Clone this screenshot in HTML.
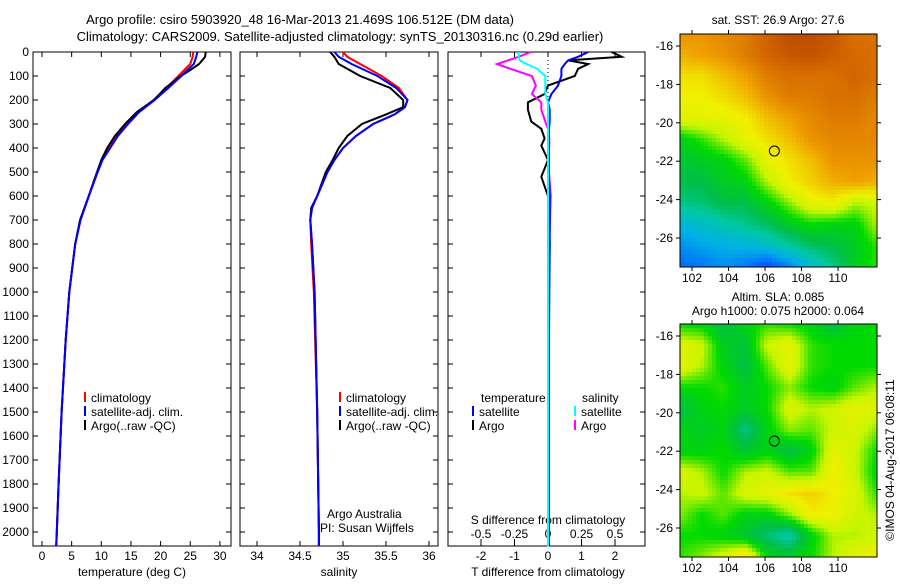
<!DOCTYPE html>
<html><head><meta charset="utf-8"><style>
body{margin:0;background:#fff;width:900px;height:580px;overflow:hidden}
svg{font-family:"Liberation Sans",sans-serif;font-size:12px}
</style></head><body>
<svg id="s" width="900" height="580" xmlns="http://www.w3.org/2000/svg">
<text x="300" y="24" text-anchor="middle" font-size="13">Argo profile: csiro 5903920_48 16-Mar-2013 21.469S 106.512E (DM data)</text>
<text x="340" y="41" text-anchor="middle" font-size="13">Climatology: CARS2009. Satellite-adjusted climatology: synTS_20130316.nc (0.29d earlier)</text>
<text x="778" y="24" text-anchor="middle">sat. SST: 26.9 Argo: 27.6</text>
<text x="778" y="301" text-anchor="middle">Altim. SLA: 0.085</text>
<text x="778" y="315" text-anchor="middle">Argo h1000: 0.075 h2000: 0.064</text>
<text transform="translate(894,460) rotate(-90)" text-anchor="middle">©IMOS 04-Aug-2017 06:08:11</text>
</svg>
<script>
// ---- data ----
const tDepth=[0,20,50,75,100,150,200,250,300,350,400,450,500,600,700,800,1000,1200,1500,1800,2000,2060];
const tClim=[25.5,25.4,25.0,24.0,23.0,21.0,18.8,16.2,14.3,12.6,11.3,10.1,9.3,7.9,6.5,5.6,4.6,4.0,3.3,2.8,2.5,2.4];
const tSat=[26.2,26.0,25.6,24.5,23.5,21.3,19.0,16.4,14.5,12.8,11.5,10.2,9.4,7.9,6.5,5.6,4.6,4.0,3.3,2.8,2.5,2.4];
const tArgo=[27.6,27.5,26.5,25.0,23.4,20.8,18.9,16.0,14.0,12.3,11.0,10.0,9.3,7.9,6.4,5.6,4.6,4.0,3.3,2.8,2.5,2.4];
const sDepth=[0,20,50,100,150,200,230,260,300,350,400,450,500,600,650,700,800,1000,1500,2000,2060];
const sClim=[35.0,35.05,35.2,35.45,35.65,35.75,35.72,35.6,35.35,35.15,35.0,34.9,34.82,34.7,34.64,34.62,34.63,34.66,34.7,34.72,34.72];
const sSat=[34.9,34.95,35.1,35.4,35.62,35.75,35.72,35.6,35.35,35.15,35.0,34.9,34.82,34.7,34.64,34.62,34.64,34.67,34.7,34.72,34.72];
const sArgo=[34.85,34.9,34.95,35.2,35.55,35.7,35.7,35.5,35.22,35.05,34.95,34.88,34.8,34.7,34.63,34.62,34.64,34.67,34.7,34.72,34.72];
const dDepth=[0,20,35,50,70,100,140,175,210,240,290,320,360,390,450,520,600,800,1200,1600,2060];
const dTArgo=[1.9,2.2,0.6,1.2,0.9,0.8,0.0,-0.1,-0.6,-0.6,-0.5,-0.2,-0.1,-0.2,0.0,-0.2,0.0,0.05,0.0,0.0,0.0];
const dTSat=[1.2,0.9,0.6,0.5,0.4,0.4,0.3,0.1,0.0,0.05,0.05,0.03,0.03,0.03,0.03,0.03,0.05,0.05,0.03,0.03,0.03];
const dSArgo=[-0.13,-0.22,-0.3,-0.38,-0.28,-0.12,-0.09,-0.12,-0.05,-0.05,-0.02,0.0,0.01,0.01,0.0,0.01,0.02,0.01,0.0,0.0,0.0];
const dSSat=[-0.22,-0.22,-0.21,-0.16,-0.08,-0.02,-0.02,-0.02,0.0,0.0,0.0,0.0,0.0,0.0,0.0,0.0,0.0,0.0,0.0,0.0,0.0];
const depthTicks=[0,100,200,300,400,500,600,700,800,900,1000,1100,1200,1300,1400,1500,1600,1700,1800,1900,2000];
const tTicks=[0,5,10,15,20,25,30];
const sTicks=[34,34.5,35,35.5,36];
const dTTicks=[-2,-1,0,1,2];
const dSTicks=[-0.5,-0.25,0,0.25,0.5];
const latTicks=[-16,-18,-20,-22,-24,-26];
const lonTicks=[102,104,106,108,110];
const argoLon=106.512, argoLat=-21.469;
const sstGrid=[
[.86,.86,.88,.9,.95,.98,.98,.96,.92,.92],
[.82,.84,.86,.9,.94,.96,.97,.95,.93,.92],
[.76,.76,.8,.84,.9,.92,.92,.92,.94,.92],
[.74,.74,.76,.8,.86,.9,.9,.92,.92,.9],
[.72,.72,.72,.74,.8,.84,.88,.9,.9,.88],
[.55,.6,.66,.72,.76,.8,.86,.88,.88,.88],
[.52,.54,.56,.62,.72,.76,.8,.86,.86,.86],
[.5,.5,.54,.56,.66,.74,.78,.82,.84,.82],
[.44,.46,.5,.5,.56,.64,.72,.74,.66,.68],
[.32,.36,.4,.44,.48,.54,.58,.56,.56,.66],
[.24,.28,.3,.32,.36,.42,.48,.5,.54,.6],
[.18,.2,.24,.2,.12,.22,.34,.44,.54,.6]];
const slaGrid=[
[.58,.56,.5,.56,.6,.58,.56,.5,.56,.58],
[.7,.68,.54,.52,.68,.72,.6,.58,.58,.58],
[.72,.66,.56,.5,.62,.72,.6,.58,.58,.58],
[.58,.58,.6,.54,.58,.64,.58,.56,.62,.66],
[.5,.56,.58,.54,.58,.7,.66,.68,.72,.7],
[.56,.54,.56,.45,.56,.64,.62,.68,.7,.64],
[.56,.56,.58,.52,.56,.5,.56,.72,.68,.58],
[.7,.66,.58,.66,.68,.62,.62,.74,.68,.56],
[.66,.68,.62,.7,.72,.76,.78,.74,.7,.6],
[.64,.58,.62,.56,.56,.64,.74,.74,.68,.66],
[.58,.58,.56,.52,.46,.4,.56,.66,.66,.68],
[.6,.64,.7,.78,.56,.54,.58,.66,.72,.74]];
// ---- helpers ----
const S=document.getElementById('s'),NS='http://www.w3.org/2000/svg';
function mk(t,a,p){const e=document.createElementNS(NS,t);for(const k in a)e.setAttribute(k,a[k]);(p||S).appendChild(e);return e;}
const Y0=52,YS=0.24;
const yD=d=>Y0+d*YS;
const panels=[{x0:33,x1:231},{x0:240,x1:438},{x0:448,x1:645}];
const PB=546;
const xT=v=>42+v*5.93, xS=v=>257+(v-34)*86, xDT=v=>548+v*33.5, xDS=v=>548+v*134;
panels.forEach((p,i)=>{
 const r=mk('rect',{x:p.x0,y:Y0,width:p.x1-p.x0,height:PB-Y0,fill:'none',stroke:'#000'});
 
 
 depthTicks.forEach(d=>{mk('line',{x1:p.x0,x2:p.x0+5,y1:yD(d),y2:yD(d),stroke:'#000'});mk('line',{x1:p.x1,x2:p.x1-5,y1:yD(d),y2:yD(d),stroke:'#000'});});
});
depthTicks.forEach(d=>{const t=mk('text',{x:29,y:yD(d)+4,'text-anchor':'end'});t.textContent=d;
 
 });
function xticks(ticks,f,ly,fmt,top){ticks.forEach(v=>{const x=f(v);mk('line',{x1:x,x2:x,y1:PB,y2:PB-5,stroke:'#000'});if(top)mk('line',{x1:x,x2:x,y1:Y0,y2:Y0+5,stroke:'#000'});const t=mk('text',{x:x,y:ly,'text-anchor':'middle'});t.textContent=fmt?fmt(v):v;
 
 });}
xticks(tTicks,xT,560,null,true);
xticks(sTicks,xS,560,null,true);
xticks(dTTicks,xDT,560,null,true);
dSTicks.forEach(v=>{const x=xDS(v);mk('line',{x1:x,x2:x,y1:PB,y2:PB-7,stroke:'#000'});const t=mk('text',{x:x,y:538,'text-anchor':'middle'});t.textContent=v;
 
 });
function lab(x,y,s,n,anc){const t=mk('text',{x:x,y:y,'text-anchor':anc||'middle'});t.textContent=s;
 
 return t;}
lab(132,576,'temperature (deg C)','x-axis-title-temperature');
lab(339,576,'salinity','x-axis-title-salinity');
lab(548,576,'T difference from climatology','x-axis-title-t-diff');
lab(548,524,'S difference from climatology','s-diff-axis-title');
mk('line',{x1:548,x2:548,y1:Y0,y2:250,stroke:'#000','stroke-dasharray':'1,3'});
function line(xs,ds,fx,col,name,w){const pts=xs.map((v,i)=>fx(v).toFixed(1)+','+yD(ds[i]).toFixed(1)).join(' ');const e=mk('polyline',{points:pts,fill:'none',stroke:col,'stroke-width':w||2});
 
 }
line(tClim,tDepth,xT,'#f00','temp-climatology-line');
line(tArgo,tDepth,xT,'#000','temp-argo-line');
line(tSat,tDepth,xT,'#00f','temp-satellite-line');
line(sClim,sDepth,xS,'#f00','sal-climatology-line');
line(sArgo,sDepth,xS,'#000','sal-argo-line');
line(sSat,sDepth,xS,'#00f','sal-satellite-line');
line(dTArgo,dDepth,xDT,'#000','tdiff-argo-line');
line(dSArgo,dDepth,xDS,'#f0f','sdiff-argo-line');
line(dTSat,dDepth,xDT,'#00f','tdiff-satellite-line');
line(dSSat,dDepth,xDS,'#0ff','sdiff-satellite-line');
function leg(x,y,col,txt,name){mk('line',{x1:x,x2:x,y1:y-10,y2:y,stroke:col,'stroke-width':2});lab(x+6,y,txt,name,'start');}
[['#f00','climatology'],['#00f','satellite-adj. clim.'],['#000','Argo(..raw -QC)']].forEach((e,i)=>{leg(85,402+i*14,e[0],e[1],'legend-temp-'+i);leg(340,402+i*14,e[0],e[1],'legend-sal-'+i);});
lab(481,402,'temperature','legend-diff-temperature-head','start');
lab(582,402,'salinity','legend-diff-salinity-head','start');
leg(473,416,'#00f','satellite','legend-diff-t-sat');leg(473,430,'#000','Argo','legend-diff-t-argo');
leg(575,416,'#0ff','satellite','legend-diff-s-sat');leg(575,430,'#f0f','Argo','legend-diff-s-argo');
lab(327,518,'Argo Australia','credit-argo-australia','start');
lab(320,532,'PI: Susan Wijffels','credit-pi','start');
// ---- maps ----
const cst=[[0,[0,20,150]],[.15,[0,90,255]],[.3,[0,176,230]],[.42,[0,200,160]],[.5,[0,190,70]],[.58,[0,218,0]],[.67,[200,245,0]],[.74,[240,240,0]],[.84,[240,160,0]],[.94,[210,100,0]],[1,[180,64,0]]];
function cmap(v){for(let i=1;i<cst.length;i++){if(v<=cst[i][0]){const a=cst[i-1],b=cst[i],t=(v-a[0])/(b[0]-a[0]);return 'rgb('+a[1].map((c,k)=>Math.round(c+(b[1][k]-c)*t)).join(',')+')';}}return 'rgb(180,64,0)';}
const lonX=l=>692+(l-102)*18.25;
function map(grid,y0,name){const x0=680,x1=877,y1=y0+233,cs=4;const g=mk('g',{});
 
 
 const R=grid.length,C=grid[0].length;
 for(let py=y0;py<y1;py+=cs)for(let px=x0;px<x1;px+=cs){const fx=(px-x0+cs/2)/(x1-x0)*(C-1),fy=(py-y0+cs/2)/(y1-y0)*(R-1);const i=Math.min(Math.floor(fy),R-2),j=Math.min(Math.floor(fx),C-2),u=fx-j,w=fy-i;const v=grid[i][j]*(1-u)*(1-w)+grid[i][j+1]*u*(1-w)+grid[i+1][j]*(1-u)*w+grid[i+1][j+1]*u*w;mk('rect',{x:px,y:py,width:Math.min(cs,x1-px),height:Math.min(cs,y1-py),fill:cmap(v)},g);}
 mk('rect',{x:x0,y:y0,width:x1-x0,height:233,fill:'none',stroke:'#000'});
 const latY=l=>y0+12+(-16-l)*19.2;
 latTicks.forEach(l=>{const y=latY(l);mk('line',{x1:x0-4,x2:x0,y1:y,y2:y,stroke:'#000'});mk('line',{x1:x1,x2:x1+4,y1:y,y2:y,stroke:'#000'});const t=mk('text',{x:x0-7,y:y+4,'text-anchor':'end'});t.textContent=l;
  
  });
 lonTicks.forEach(l=>{const x=lonX(l);mk('line',{x1:x,x2:x,y1:y0-4,y2:y0,stroke:'#000'});mk('line',{x1:x,x2:x,y1:y1,y2:y1+4,stroke:'#000'});const t=mk('text',{x:x,y:y1+15,'text-anchor':'middle'});t.textContent=l;
  
  });
 const c=mk('circle',{cx:lonX(argoLon),cy:latY(argoLat),r:5,fill:'none',stroke:'#000'});
 
 
}
map(sstGrid,34,'sst-map');
map(slaGrid,324,'sla-map');
</script>
</body></html>
